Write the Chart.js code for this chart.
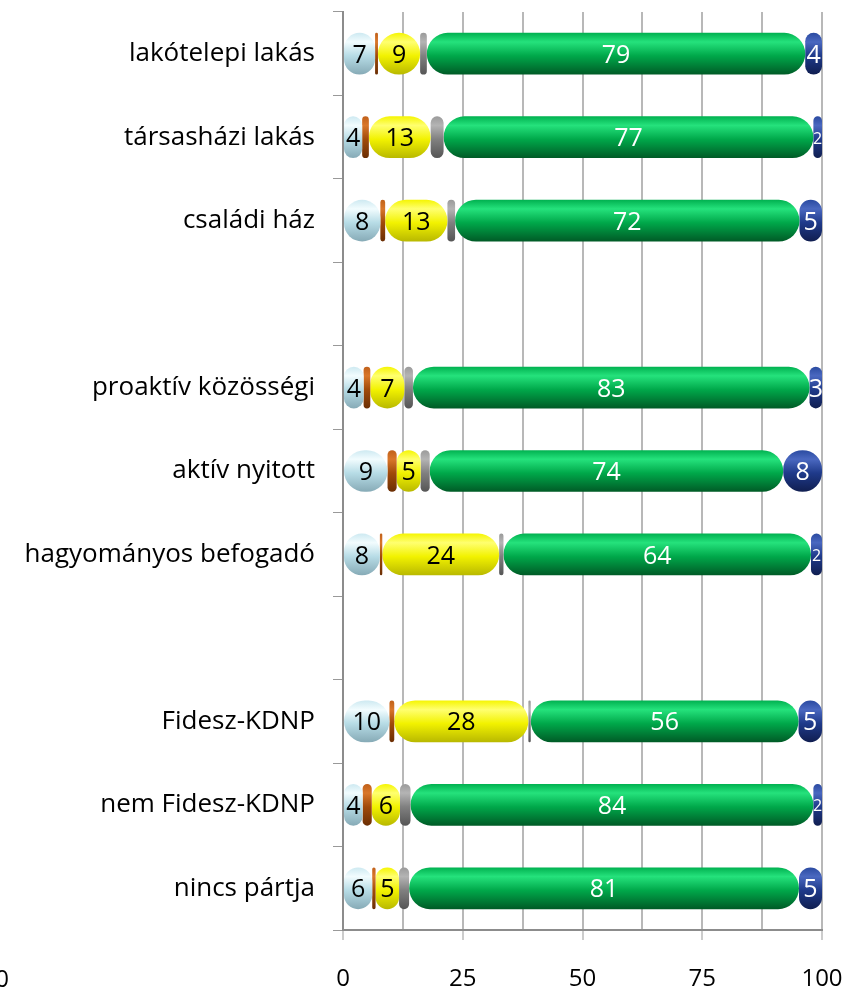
<!DOCTYPE html>
<html>
<head>
<meta charset="utf-8">
<script src="https://cdn.jsdelivr.net/npm/chart.js@4/dist/chart.umd.min.js"></script>
<style>
  html, body { margin: 0; padding: 0; background: #fff; }
  #wrap { width: 856px; height: 999px; }
</style>
</head>
<body>
<div id="wrap"><canvas id="barChart" width="856" height="999"></canvas></div>
<script>
const categories = ['lakótelepi lakás', 'társasházi lakás', 'családi ház', '',
    'proaktív közösségi', 'aktív nyitott', 'hagyományos befogadó', '',
    'Fidesz-KDNP', 'nem Fidesz-KDNP', 'nincs pártja'];

const lightBlue = [6.7, 4.0, 7.8, null, 4.3, 9.3, 7.7, null, 9.7, 4.1, 6.1];
const brown     = [0.6, 1.4, 1.0, null, 1.4, 1.9, 0.5, null, 1.0, 1.9, 0.7];
const yellow    = [8.8, 12.9, 13.0, null, 7.1, 5.0, 24.4, null, 28.0, 5.9, 4.9];
const gray      = [1.4, 2.7, 1.6, null, 1.8, 1.9, 0.9, null, 0.5, 2.2, 2.1];
const green     = [79.0, 77.2, 71.9, null, 82.8, 73.8, 64.2, null, 55.9, 84.1, 81.4];
const darkBlue  = [3.5, 1.8, 4.7, null, 2.6, 8.1, 2.3, null, 4.9, 1.8, 4.8];

const xTicks = [0, 25, 50, 75, 100];

const FONT = '"Open Sans", "DejaVu Sans", sans-serif';

// vertical gradient per bar to fake the 3D pill look
function pill(stops) {
    return function(ctx) {
        const chart = ctx.chart;
        const y = chart.scales && chart.scales.y;
        if (!y || ctx.type !== 'data') return stops[2];
        const cy = y.getPixelForValue(ctx.dataIndex);
        if (!isFinite(cy)) return stops[2];
        const h = 21;
        const g = chart.ctx.createLinearGradient(0, cy - h, 0, cy + h);
        g.addColorStop(0, stops[0]);
        g.addColorStop(0.22, stops[1]);
        g.addColorStop(0.55, stops[2]);
        g.addColorStop(1, stops[3]);
        return g;
    };
}

function series(data, stops, labelColor) {
    return {
        data: data,
        backgroundColor: pill(stops),
        borderWidth: 0,
        borderSkipped: false,
        borderRadius: { topLeft: 30, topRight: 30, bottomLeft: 30, bottomRight: 30 },
        barPercentage: 0.5,
        categoryPercentage: 1,
        labelColor: labelColor
    };
}

const barLabels = {
    id: 'barLabels',
    afterDatasetsDraw(chart) {
        const c = chart.ctx;
        chart.data.datasets.forEach((ds, i) => {
            if (!ds.labelColor) return;
            chart.getDatasetMeta(i).data.forEach((bar, j) => {
                const v = ds.data[j];
                if (v == null) return;
                const w = Math.abs(bar.x - bar.base);
                const size = w < 12 ? 16 : 25;
                c.save();
                c.font = size + 'px ' + FONT;
                c.fillStyle = ds.labelColor;
                c.textAlign = 'center';
                c.textBaseline = 'middle';
                c.fillText(String(Math.round(v)), (bar.x + bar.base) / 2, bar.y + 2);
                c.restore();
            });
        });
    },
    afterDraw(chart) {
        // cut-off label of the neighbouring chart at the left edge
        const c = chart.ctx;
        c.save();
        c.font = '24px ' + FONT;
        c.fillStyle = '#000';
        c.textAlign = 'right';
        c.textBaseline = 'middle';
        c.fillText('100', 9, 980);
        c.restore();
    }
};

const ctx = document.getElementById('barChart').getContext('2d');
const barChart = new Chart(ctx, {
    type: 'bar',
    data: {
        labels: categories,
        datasets: [
            series(lightBlue, ['#cde9f1', '#f2fcfe', '#b7dce6', '#86aab6'], '#000'),
            series(brown, ['#c0601a', '#d9772a', '#a04a0a', '#6a2e04'], null),
            series(yellow, ['#f5f500', '#ffff70', '#f2f200', '#b8b800'], '#000'),
            series(gray, ['#9a9a9a', '#b4b4b4', '#808080', '#555555'], null),
            series(green, ['#00b04f', '#25e27c', '#00a84a', '#005a26'], '#fff'),
            series(darkBlue, ['#2a4aa0', '#4a68c0', '#1f3a8a', '#101e50'], '#fff')
        ]
    },
    options: {
        responsive: false,
        animation: false,
        indexAxis: 'y',
        layout: { padding: { top: 12, right: 34, left: 0, bottom: 0 } },
        plugins: {
            legend: { display: false },
            tooltip: { enabled: false }
        },
        scales: {
            x: {
                stacked: true,
                min: 0,
                max: 100,
                afterBuildTicks: (scale) => {
                    const t = [];
                    for (let v = 0; v <= 100; v += 12.5) t.push({ value: v });
                    scale.ticks = t;
                },
                afterFit: (scale) => {
                    scale.height = 69;
                    scale.paddingLeft = 0;
                    scale.paddingRight = 0;
                },
                ticks: {
                    autoSkip: false,
                    maxRotation: 0,
                    padding: 25,
                    color: '#000',
                    font: { family: FONT, size: 24 },
                    callback: (v) => xTicks.includes(v) ? String(v) : ''
                },
                grid: {
                    color: '#b8b8b8',
                    lineWidth: 2,
                    tickLength: 10,
                    tickColor: (c) => (c.tick && xTicks.includes(c.tick.value)) ? '#999' : 'rgba(0,0,0,0)',
                    tickWidth: 1
                },
                border: { color: '#8c8c8c', width: 2 }
            },
            y: {
                stacked: true,
                afterFit: (scale) => {
                    scale.width = 343;
                    scale.paddingTop = 0;
                    scale.paddingBottom = 0;
                },
                ticks: {
                    padding: 18,
                    color: '#000',
                    font: { family: FONT, size: 26 }
                },
                grid: {
                    drawOnChartArea: false,
                    offset: true,
                    tickLength: 10,
                    tickColor: '#999',
                    tickWidth: 1
                },
                border: { color: '#8c8c8c', width: 2 }
            }
        }
    },
    plugins: [barLabels]
});
</script>
</body>
</html>
